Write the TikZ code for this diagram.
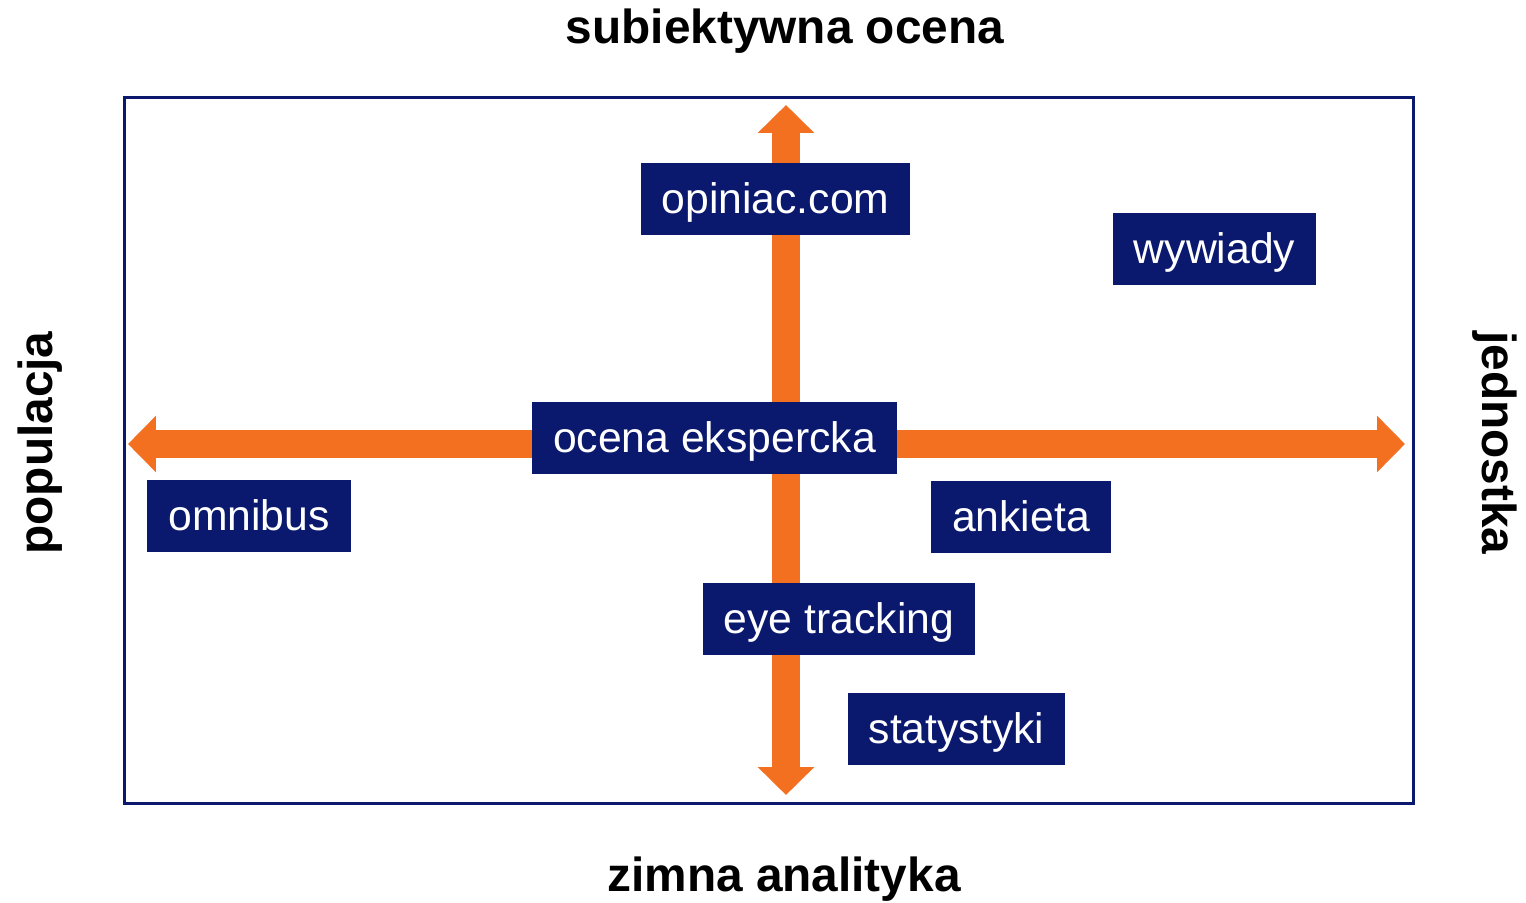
\documentclass[tikz,border=0pt]{standalone}
\usepackage{fontspec}
\setmainfont{Liberation Sans}
\usetikzlibrary{arrows.meta,positioning,calc}

\definecolor{granat}{RGB}{10,25,110}
\definecolor{pomarancz}{RGB}{243,112,33}

\begin{document}
\begin{tikzpicture}[x=0.02cm, y=-0.02cm]
            % Style
            \tikzstyle{pudelko}=[fill=granat, text=white, inner xsep=0.42cm, minimum height=1.44cm, text height=22pt, text depth=5.3pt, font=\fontsize{24.3}{28}\selectfont]
            \tikzstyle{os}=[font=\fontsize{27.2}{32}\selectfont\bfseries]
            \tikzstyle{strzalka}=[draw=pomarancz, line width=0.56cm, {Triangle[length=0.56cm,width=1.1cm]}-{Triangle[length=0.56cm,width=1.1cm]}]

            \useasboundingbox (0,0) rectangle (1526,903);

            % Ramka
            \draw[granat, line width=0.06cm] (124,97) rectangle (1413,803);

            % Konce strzalek
            \coordinate (lewo) at (128,444);
            \coordinate (prawo) at (1405,444);
            \coordinate (gora) at (786,105);
            \coordinate (dol) at (786,795);

            % Strzalki
            \draw[strzalka] (lewo) -- (prawo);
            \draw[strzalka] (gora) -- (dol);

            % Opisy osi
            \node[os] (sub) at (785,31) {subiektywna ocena};
            \node[os] (zim) at (784,879) {zimna analityka};
            \node[os, rotate=90] (pop) at (40,443) {populacja};
            \node[os, rotate=-90] (jed) at (1495,443) {jednostka};

            % Metody
            \node[pudelko] (opiniac) at (775.5,199) {opiniac.com};
            \node[pudelko] (wywiady) at (1214.5,249) {wywiady};
            \node[pudelko] (ekspert) at (714.5,438) {ocena ekspercka};
            \node[pudelko] (omnibus) at (249,516) {omnibus};
            \node[pudelko] (ankieta) at (1021,517) {ankieta};
            \node[pudelko] (eye) at (839,619) {eye tracking};
            \node[pudelko] (stat) at (956.5,729) {statystyki};
        \end{tikzpicture}
\end{document}
